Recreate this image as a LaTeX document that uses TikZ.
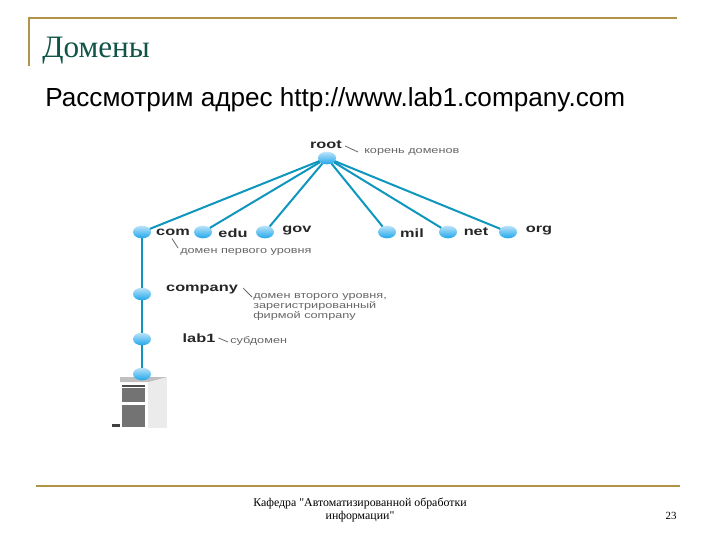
\documentclass[tikz,border=0pt]{standalone}
\usepackage{fontspec}
\setmainfont{Liberation Serif}
\newfontfamily\footfont{Liberation Serif}
\newfontfamily\arialfont{Liberation Sans}
\newfontfamily\widefont[FakeStretch=1.36]{Liberation Sans}
\usetikzlibrary{positioning,shapes.geometric}
\definecolor{rulegold}{RGB}{176,148,72}
\definecolor{titlegreen}{RGB}{16,84,72}
\definecolor{linkteal}{RGB}{15,150,190}
\definecolor{ballblue}{RGB}{30,165,235}
\tikzset{
	ball/.style={ellipse,minimum width=13.5pt,minimum height=9.5pt,inner sep=0pt,outer sep=0pt,top color=ballblue!30,middle color=ballblue!70,bottom color=ballblue},
	link/.style={draw=linkteal,line width=1.5pt},
	trunk/.style={draw=linkteal,line width=2pt},
	zonename/.style={font=\widefont\bfseries\fontsize{9}{10}\selectfont,inner sep=0pt,text=black!85},
	remark/.style={font=\widefont\fontsize{7}{7.6}\selectfont,inner sep=0pt,text=black!60,align=left},
	tickline/.style={draw=black!60,line width=0.6pt},
	rulebar/.style={draw=rulegold,line width=1.4pt}
}
\begin{document}
\begin{tikzpicture}[x=0.75pt,y=-0.75pt]
	\useasboundingbox (0,0) rectangle (720,540);
	% slide frame
	\coordinate (frameA) at (29,66);
	\coordinate (frameB) at (29,18);
	\coordinate (frameC) at (677,18);
	\coordinate (footA) at (36,486);
	\coordinate (footB) at (680,486);
	\draw[rulebar] (frameA) -- (frameB) -- (frameC);
	\draw[rulebar,line width=1.8pt] (footA) -- (footB);
	\node[anchor=base west,inner sep=0pt,text=titlegreen,font=\fontsize{23.4}{26}\selectfont] (title) at (42,57) {Домены};
	\node[anchor=base west,inner sep=0pt,font=\arialfont\fontsize{19.6}{22}\selectfont] (subtitle) at (45,106) {Рассмотрим адрес http://www.lab1.company.com};
	% server
	\fill[black!8] (148,377) rectangle (167,428);
	\fill[black!25] (120,377) -- (167,377) -- (148,382) -- (120,382) -- cycle;
	\fill[black!70] (122,385) rectangle (145,387);
	\fill[black!55] (122,388) rectangle (145,402);
	\fill[black!55] (122,405) rectangle (145,427);
	\fill[black!75] (112,424) rectangle (120,427);
	% balls
	\node[ball] (root) at (327,158) {};
	\foreach \name/\x in {com/142,edu/203,gov/265,mil/387,net/448,org/508}
		\node[ball] (\name) at (\x,232) {};
	\node[ball] (company) at (142,294) {};
	\node[ball] (lab) at (142,339) {};
	\node[ball] (host) at (142,374) {};
	% links
	\foreach \name in {com,edu,gov,mil,net,org}
		\draw[link] (root) -- (\name);
	\draw[trunk] (com) -- (company);
	\draw[trunk] (company) -- (lab);
	\draw[trunk] (lab) -- (host);
	% domain names
	\node[zonename] (rootname) at (326,145) {root};
	\node[zonename] (comname) at (173,232) {com};
	\node[zonename] (eduname) at (233,233) {edu};
	\node[zonename] (govname) at (297,231) {gov};
	\node[zonename] (milname) at (412,233) {mil};
	\node[zonename] (netname) at (476,232) {net};
	\node[zonename] (orgname) at (539,231) {org};
	\node[zonename] (companyname) at (202,289) {company};
	\node[zonename] (labname) at (199,338) {lab1};
	% remarks
	\node[remark,anchor=west] (rootnote) at (364,152) {корень доменов};
	\node[remark,anchor=west] (comnote) at (180,252) {домен первого уровня};
	\node[remark,anchor=north west] (companynote) at (253,293) {домен второго уровня,\\зарегистрированный\\фирмой company};
	\node[remark,anchor=west] (labnote) at (230,341) {субдомен};
	\coordinate (rootbend) at (358,152);
	\coordinate (combend) at (178,248);
	\coordinate (companybend) at (252,297);
	\coordinate (labbend) at (228,342);
	\draw[tickline] (rootname.east) ++(3,1) -- (rootbend);
	\draw[tickline] (comname.south) ++(-1,3) -- (combend);
	\draw[tickline] (companyname.east) ++(5,-1) -- (companybend);
	\draw[tickline] (labname.east) ++(3,0) -- (labbend);
	% footer
	\node[align=center,inner sep=0pt,font=\footfont\fontsize{8.9}{10}\selectfont] (footer) at (360,510) {Кафедра "Автоматизированной обработки\\информации"};
	\node[inner sep=0pt,font=\fontsize{8.2}{10}\selectfont] (pagenum) at (671,516) {23};
\end{tikzpicture}
\end{document}
